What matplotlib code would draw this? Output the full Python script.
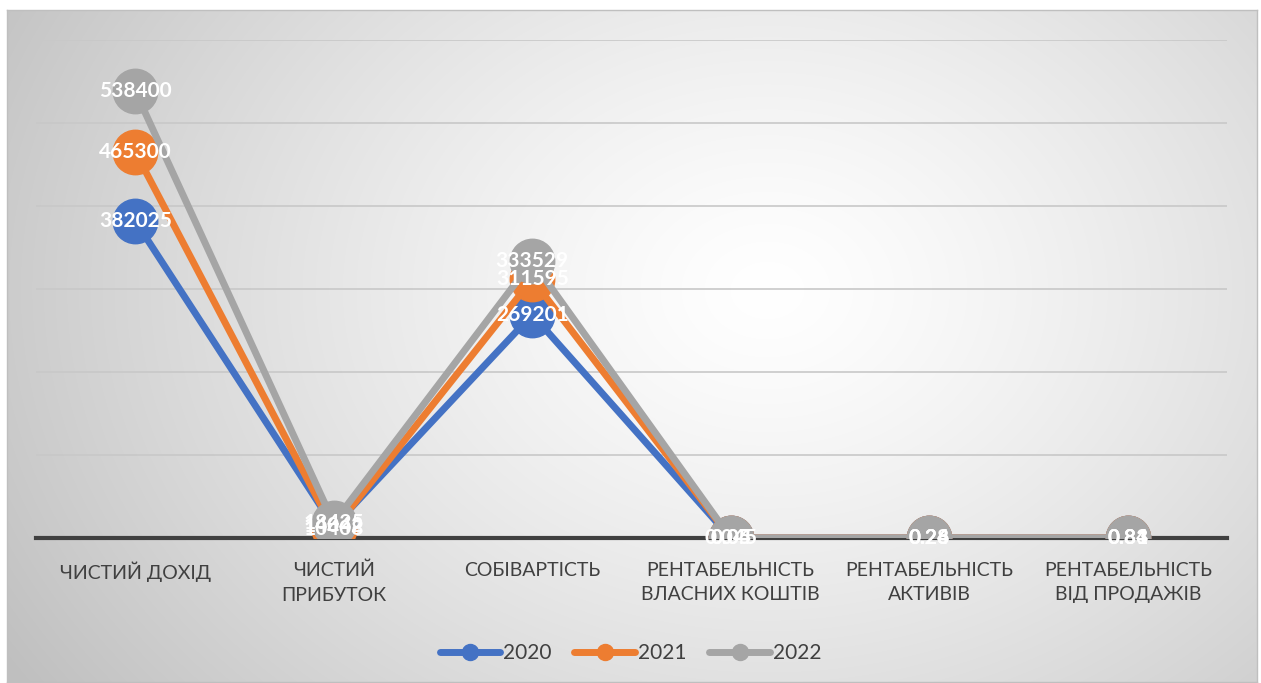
import numpy as np
import matplotlib.pyplot as plt

categories = ["ЧИСТИЙ ДОХІД", "ЧИСТИЙ\nПРИБУТОК", "СОБІВАРТІСТЬ",
              "РЕНТАБЕЛЬНІСТЬ\nВЛАСНИХ КОШТІВ", "РЕНТАБЕЛЬНІСТЬ\nАКТИВІВ",
              "РЕНТАБЕЛЬНІСТЬ\nВІД ПРОДАЖІВ"]
years = ["2020", "2021", "2022"]
v2020 = [382025, 14042, 269201, 0.04, 0.24, 0.81]
v2021 = [465300, 10408, 311595, 0.05, 0.26, 0.83]
v2022 = [538400, 18425, 333529, 0.045, 0.28, 0.84]
colors = ["#4472C4", "#ED7D31", "#A5A5A5"]

W, H = 1261, 683
fig = plt.figure(figsize=(W / 100, H / 100), dpi=100)
fig.patch.set_facecolor("white")

# chart area background: radial gradient, grey corners to white centre
bg = fig.add_axes([7 / W, 1 - 682 / H, 1250 / W, 672 / H], zorder=0)
yy, xx = np.mgrid[0:672, 0:1250]
d = np.sqrt(((xx - 760) / 900.0) ** 2 + ((yy - 280) / 700.0) ** 2)
d = np.clip(d, 0, 1)
g = 1.0 - 0.25 * d ** 1.3
bg.imshow(np.dstack([g, g, g]), aspect="auto", interpolation="bilinear")
bg.set_xticks([])
bg.set_yticks([])
for s in bg.spines.values():
    s.set_color("#BFBFBF")
    s.set_linewidth(1)

ax = fig.add_axes([36 / W, 1 - 538 / H, 1191 / W, 498 / H], zorder=1)
ax.patch.set_alpha(0)
x = np.arange(len(categories))
for vals, name, c in zip([v2020, v2021, v2022], years, colors):
    ax.plot(x, vals, color=c, lw=5, marker="o", ms=32, label=name,
            solid_capstyle="round", zorder=3)
    for xi, v in zip(x, vals):
        txt = f"{v:g}" if v < 1 else f"{int(v)}"
        ax.text(xi, v, txt, ha="center", va="center", color="white",
                fontsize=15, fontweight="bold", family="Lato", zorder=4)

ax.set_xlim(-0.5, len(categories) - 0.5)
ax.set_ylim(0, 600000)
ax.set_yticks(np.arange(100000, 600001, 100000))
ax.yaxis.grid(True, color="#C8C8C8", lw=1.2)
ax.set_axisbelow(True)
ax.tick_params(axis="y", left=False, labelleft=False)
ax.set_xticks(x)
ax.set_xticklabels(categories, color="#404040", fontsize=14, family="Lato",
                   linespacing=1.55)
ax.tick_params(axis="x", length=0, pad=17)
for s in ["top", "right", "left"]:
    ax.spines[s].set_visible(False)
ax.spines["bottom"].set_color("#404040")
ax.spines["bottom"].set_linewidth(3)
ax.spines["bottom"].set_zorder(2)

leg = ax.legend(loc="center", bbox_to_anchor=(0.5, 1 - 653 / H), bbox_transform=fig.transFigure,
                ncol=3, frameon=False, markerscale=0.36, handlelength=2.9,
                handletextpad=0.15, columnspacing=1.1,
                prop={"family": "Lato", "size": 15})
for t in leg.get_texts():
    t.set_color("#404040")

plt.savefig("out.png", dpi=100)
